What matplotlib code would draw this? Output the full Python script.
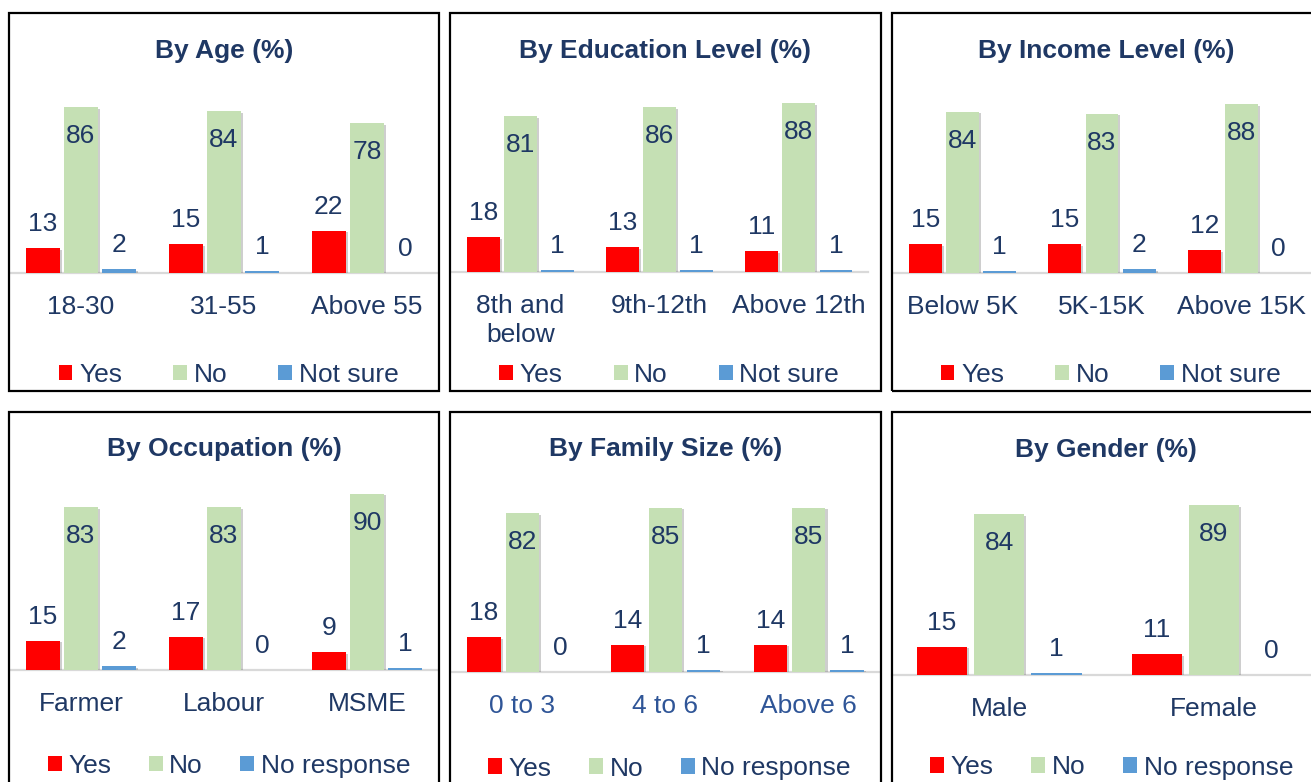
import numpy as np
import matplotlib
matplotlib.use("Agg")
import matplotlib.pyplot as plt
import matplotlib.patheffects as pe
import matplotlib.transforms as mtransforms
from matplotlib.patches import Rectangle

plt.rcParams['font.family'] = ['Liberation Sans', 'DejaVu Sans']

# ---------------- data ----------------
series_top = ['Yes', 'No', 'Not sure']
series_bottom = ['Yes', 'No', 'No response']

age_cats = ['18-30', '31-55', 'Above 55']
age_yes = [13, 15, 22]
age_no = [86, 84, 78]
age_ns = [2, 1, 0]

edu_cats = ['8th and\nbelow', '9th-12th', 'Above 12th']
edu_yes = [18, 13, 11]
edu_no = [81, 86, 88]
edu_ns = [1, 1, 1]

inc_cats = ['Below 5K', '5K-15K', 'Above 15K']
inc_yes = [15, 15, 12]
inc_no = [84, 83, 88]
inc_ns = [1, 2, 0]

occ_cats = ['Farmer', 'Labour', 'MSME']
occ_yes = [15, 17, 9]
occ_no = [83, 83, 90]
occ_nr = [2, 0, 1]

fam_cats = ['0 to 3', '4 to 6', 'Above 6']
fam_yes = [18, 14, 14]
fam_no = [82, 85, 85]
fam_nr = [0, 1, 1]

gen_cats = ['Male', 'Female']
gen_yes = [15, 11]
gen_no = [84, 89]
gen_nr = [1, 0]

titles = ['By Age (%)', 'By Education Level (%)', 'By Income Level (%)',
          'By Occupation (%)', 'By Family Size (%)', 'By Gender (%)']

# ---------------- style ----------------
W, H, DPI = 1311, 782, 100
RED = '#FF0000'
GREEN = '#C5E0B4'
BLUE = '#5B9BD5'
TEXT = '#1F3864'
CAT_BLUE = '#2F5597'
FS = 19

fig = plt.figure(figsize=(W / DPI, H / DPI), dpi=DPI)
fig.patch.set_facecolor('white')


def fx(x):
    return x / W


def fy(y):
    return 1 - y / H


panels = [
    dict(cats=age_cats, vals=[age_yes, age_no, age_ns], names=series_top,
         box=(9, 13, 439, 391), ax=(9.5, 429, 273, 1.925), title=(224, 58),
         leg=(228.5, 375), cs=1.93, catcol=TEXT),
    dict(cats=edu_cats, vals=[edu_yes, edu_no, edu_ns], names=series_top,
         box=(450, 13, 880.5, 391), ax=(450.8, 417.5, 272, 1.92), title=(665.3, 58),
         leg=(669, 375), cs=1.93, catcol=TEXT),
    dict(cats=inc_cats, vals=[inc_yes, inc_no, inc_ns], names=series_top,
         box=(892, 13, 1322, 391), ax=(892.7, 418.5, 273, 1.92), title=(1106.7, 58),
         leg=(1110.5, 375), cs=1.93, catcol=TEXT),
    dict(cats=occ_cats, vals=[occ_yes, occ_no, occ_nr], names=series_bottom,
         box=(9, 412, 439, 792), ax=(9.5, 429, 670, 1.96), title=(224, 456),
         leg=(229, 766), cs=1.42, catcol=TEXT),
    dict(cats=fam_cats, vals=[fam_yes, fam_no, fam_nr], names=series_bottom,
         box=(450, 412, 880.5, 792), ax=(450.7, 429.6, 671.7, 1.93), title=(665.3, 456),
         leg=(669.5, 768.5), cs=1.42, catcol=CAT_BLUE),
    dict(cats=gen_cats, vals=[gen_yes, gen_no, gen_nr], names=series_bottom,
         box=(892, 412, 1322, 792), ax=(891.8, 429.6, 675.3, 1.915), title=(1106.2, 456.5),
         leg=(1111.7, 767.5), cs=1.42, catcol=TEXT),
]

colors = [RED, GREEN, BLUE]
bar_w = 0.234
bar_off = 0.267
shadow = [pe.SimplePatchShadow(offset=(1.5, -1.2), shadow_rgbFace=(0.45, 0.45, 0.45), alpha=0.35),
          pe.Normal()]

for p, title in zip(panels, titles):
    # panel frame
    x0, y0, x1, y1 = p['box']
    fig.add_artist(Rectangle((fx(x0), fy(y1)), (x1 - x0) / W, (y1 - y0) / H,
                             transform=fig.transFigure, fill=False, lw=1.6,
                             ec='black', zorder=5))
    left, width, base, scale = p['ax']
    ymax = 100
    ax = fig.add_axes([fx(left), fy(base), width / W, ymax * scale / H])
    ax.set_xlim(-0.5, len(p['cats']) - 0.5)
    ax.set_ylim(0, ymax)
    ax.patch.set_alpha(0)
    for s in ['top', 'left', 'right']:
        ax.spines[s].set_visible(False)
    ax.spines['bottom'].set_color('#D9D9D9')
    ax.spines['bottom'].set_linewidth(1.6)
    ax.spines['bottom'].set_zorder(1)
    ax.set_yticks([])
    ax.set_xticks([])

    x = np.arange(len(p['cats']))
    for i, (vals, col, name) in enumerate(zip(p['vals'], colors, p['names'])):
        bars = ax.bar(x + (i - 1) * bar_off, vals, bar_w, color=col, label=name,
                      zorder=2)
        for b in bars:
            b.set_path_effects(shadow)
        for xi, v in zip(x + (i - 1) * bar_off, vals):
            off = -36 if i == 1 else 17
            ax.annotate(str(v), (xi, v), xytext=(0, off), textcoords='offset pixels',
                        ha='center', va='baseline', fontsize=FS, color=TEXT,
                        zorder=4)

    # category labels
    tr = mtransforms.offset_copy(ax.get_xaxis_transform(), fig=fig, x=0, y=-22,
                                 units='dots')
    for xi, c in zip(x, p['cats']):
        ax.text(xi, 0, c, transform=tr, ha='center', va='top', fontsize=FS,
                color=p['catcol'], linespacing=1.26)

    # title
    fig.text(fx(p['title'][0]), fy(p['title'][1]), title, ha='center', va='baseline',
             fontsize=FS, fontweight='bold', color=TEXT)

    # legend
    handles = [Rectangle((0, 0), 1, 1, facecolor=c, edgecolor='none') for c in colors]
    leg = ax.legend(handles, p['names'], loc='center',
                    bbox_to_anchor=(fx(p['leg'][0]), fy(p['leg'][1])),
                    bbox_transform=fig.transFigure, ncol=3, frameon=False,
                    fontsize=FS, handlelength=0.53, handleheight=0.53,
                    handletextpad=0.25, columnspacing=p['cs'], borderpad=0,
                    borderaxespad=0)
    for t in leg.get_texts():
        t.set_color(TEXT)

fig.savefig('out.png', dpi=DPI, facecolor='white')
